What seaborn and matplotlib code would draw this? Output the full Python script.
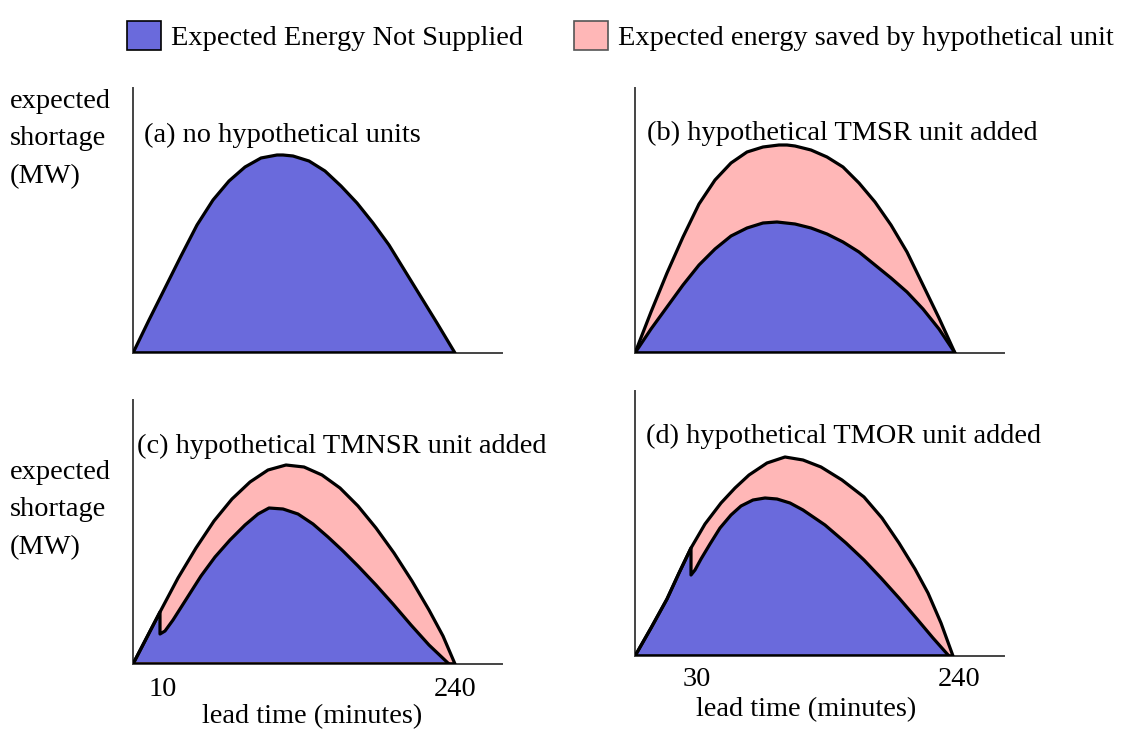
import matplotlib
matplotlib.use('Agg')
import matplotlib.pyplot as plt
from matplotlib.patches import Patch
import pandas as pd
import seaborn as sns

# schematic curves, in pixels from each panel's origin
a_eens_x = [0, 16, 32, 48, 64, 80, 96, 112, 128, 144, 150, 160, 176, 192, 208, 224, 240, 256, 272, 288, 304, 322]
a_eens_y = [0, 33, 65, 97, 128, 153, 172, 186, 195, 198, 198, 197, 192, 182, 167, 150, 130, 108, 82, 56, 30, 0]

b_total_x = [0, 16, 32, 48, 64, 80, 96, 112, 128, 144, 152, 160, 176, 192, 208, 224, 240, 256, 272, 288, 304, 320]
b_total_y = [0, 41, 80, 116, 149, 173, 190, 201, 206, 208, 208, 207, 203, 196, 186, 170, 151, 128, 101, 68, 35, 0]
b_eens_x = [0, 16, 32, 48, 64, 80, 96, 112, 128, 142, 160, 176, 192, 208, 224, 240, 256, 272, 288, 304, 320]
b_eens_y = [0, 24, 46, 68, 88, 104, 117, 125, 130, 131, 129, 125, 119, 111, 101, 88, 75, 61, 44, 24, 0]

c_total_x = [0, 27, 45, 63, 81, 99, 117, 135, 153, 171, 189, 207, 225, 243, 261, 279, 296, 310, 322]
c_total_y = [0, 52, 86, 116, 143, 165, 182, 194, 199, 197, 189, 176, 158, 136, 111, 83, 54, 28, 0]
c_eens_x = [0, 27, 27, 32, 40, 54, 68, 82, 97, 112, 125, 136, 150, 165, 180, 195, 210, 225, 243, 260, 278, 296, 316]
c_eens_y = [0, 52, 30, 33, 44, 66, 88, 107, 124, 139, 150, 156, 155, 150, 140, 127, 113, 98, 79, 60, 39, 19, 0]

d_total_x = [0, 16, 32, 44, 56, 70, 86, 100, 114, 132, 150, 168, 186, 207, 229, 247, 264, 280, 293, 306, 318]
d_total_y = [0, 28, 57, 83, 108, 132, 153, 168, 181, 193, 199, 196, 189, 176, 159, 138, 113, 87, 63, 33, 0]
d_eens_x = [0, 16, 32, 44, 56, 56, 60, 66, 75, 85, 96, 106, 118, 130, 142, 155, 168, 190, 211, 229,
            246, 264, 282, 298, 314]
d_eens_y = [0, 28, 57, 83, 108, 81, 86, 97, 112, 128, 141, 150, 156, 158, 157, 153, 146, 131, 113, 96,
            78, 58, 37, 18, 0]

titles = ['(a) no hypothetical units', '(b) hypothetical TMSR unit added',
          '(c) hypothetical TMNSR unit added', '(d) hypothetical TMOR unit added']
legend_labels = ['Expected Energy Not Supplied', 'Expected energy saved by hypothetical unit']
c_ticks = ['10', '240']
d_ticks = ['30', '240']

BLUE = '#6a6adc'
PINK = '#ffb7b7'
W, H = 1121, 730

sns.set_style('white')
plt.rcParams['font.family'] = ['Liberation Serif', 'DejaVu Serif']
plt.rcParams['font.size'] = 20.4
plt.rcParams['text.color'] = 'black'


def fx(x):
    return x / W


def fy(y):
    return 1 - y / H


def draw_panel(fig, box, eens, total=None, floor=0):
    left, top, right, bottom = box
    ax = fig.add_axes([fx(left), fy(bottom), fx(right - left), (bottom - top) / H])
    ax.set_xlim(0, right - left)
    ax.set_ylim(0, bottom - top)
    curves = [eens] if total is None else [total, eens]
    if total is not None:
        ax.fill_between(total[0], total[1], 0, color=PINK, lw=0, zorder=1)
    ax.fill_between(eens[0], eens[1], floor, color=BLUE, lw=0, zorder=2)
    for xs, ys in curves:
        df = pd.DataFrame({'x': xs, 'y': ys})
        sns.lineplot(data=df, x='x', y='y', sort=False, estimator=None,
                     color='black', lw=2.3, ax=ax, zorder=3)
    end = max(c[0][-1] for c in curves)
    ax.plot([0, end], [0, 0], color='black', lw=2.6, zorder=4, solid_capstyle='butt')
    for s in ['top', 'right']:
        ax.spines[s].set_visible(False)
    for s in ['left', 'bottom']:
        ax.spines[s].set_color('#444444')
        ax.spines[s].set_linewidth(1.4)
    ax.set_xticks([])
    ax.set_yticks([])
    ax.set_xlabel('')
    ax.set_ylabel('')
    ax.patch.set_alpha(0)
    return ax


fig = plt.figure(figsize=(W / 100, H / 100), dpi=100)

draw_panel(fig, (133, 88, 502, 353), (a_eens_x, a_eens_y))
draw_panel(fig, (635, 88, 1004, 353), (b_eens_x, b_eens_y), (b_total_x, b_total_y))
draw_panel(fig, (133, 400, 502, 664), (c_eens_x, c_eens_y), (c_total_x, c_total_y), floor=2.5)
draw_panel(fig, (635, 391, 1004, 656), (d_eens_x, d_eens_y), (d_total_x, d_total_y))

title_pos = [(144, 142), (647, 140), (137, 453), (646, 443)]
for t, (x, y) in zip(titles, title_pos):
    fig.text(fx(x), fy(y), t, ha='left', va='baseline')

for y in [89, 460]:
    fig.text(fx(10), fy(y), 'expected\nshortage\n(MW)', ha='left', va='top', linespacing=1.65)

for lab, x in zip(c_ticks, [163, 455]):
    fig.text(fx(x), fy(690), lab, ha='center', va='center')
for lab, x in zip(d_ticks, [697, 959]):
    fig.text(fx(x), fy(680), lab, ha='center', va='center')
fig.text(fx(312), fy(717), 'lead time (minutes)', ha='center', va='center')
fig.text(fx(806), fy(710), 'lead time (minutes)', ha='center', va='center')

handles = [Patch(facecolor=BLUE, edgecolor='black', lw=1.2),
           Patch(facecolor=PINK, edgecolor='#555555', lw=1.2)]
fig.legend(handles, legend_labels, loc='center', bbox_to_anchor=(fx(620), fy(36)),
           ncol=2, frameon=False, handlelength=1.2, handleheight=1.2,
           handletextpad=0.35, columnspacing=1.8, borderaxespad=0)

fig.savefig('out.png', dpi=100)
